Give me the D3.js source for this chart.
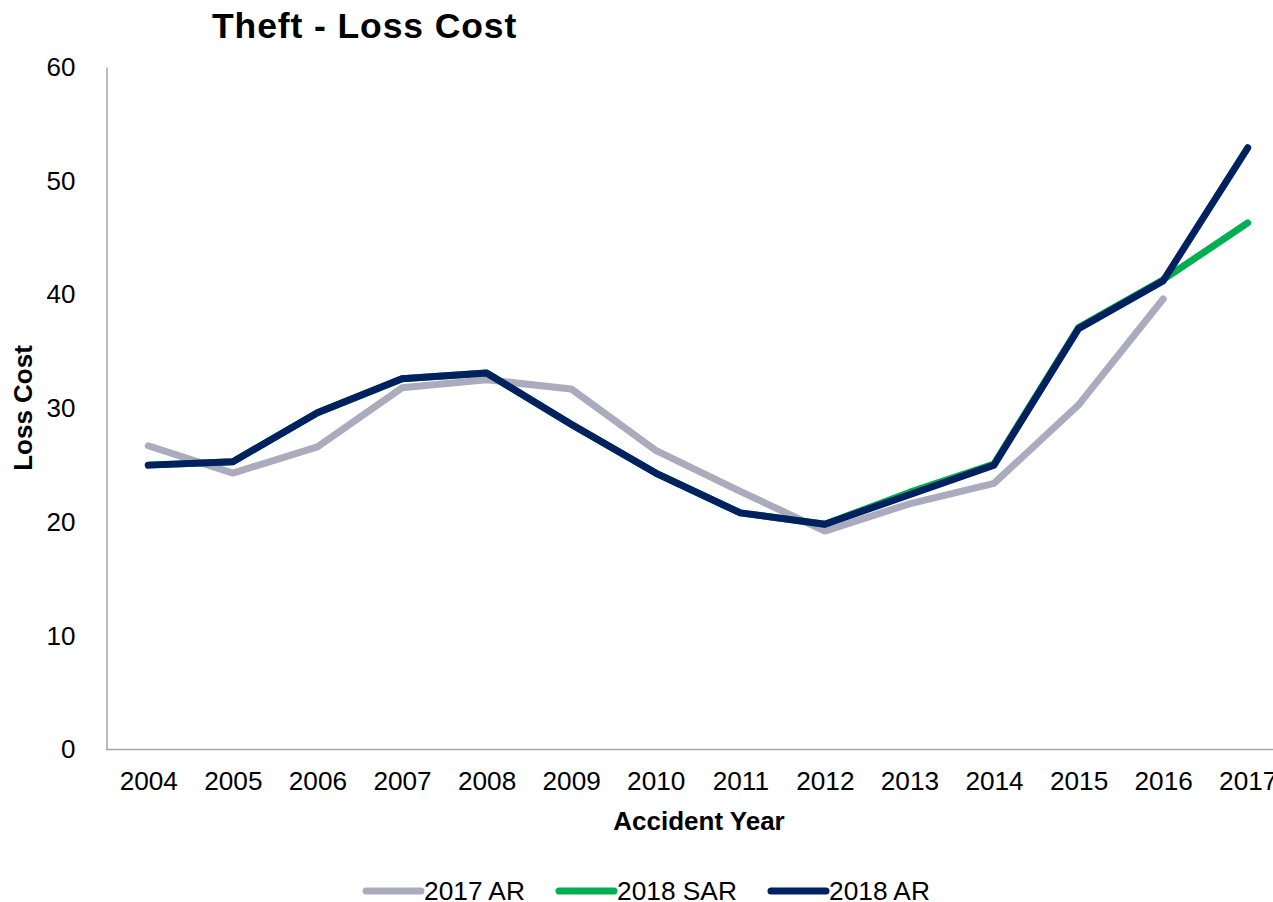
<!DOCTYPE html>
<html>
<head>
<meta charset="utf-8">
<script src="https://cdn.jsdelivr.net/npm/d3@7"></script>
<style>
  html, body { margin: 0; padding: 0; background: #fff; }
  svg { display: block; font-family: "Liberation Sans", Arial, sans-serif; }
</style>
</head>
<body>
<svg id="chart" width="1273" height="902"></svg>
<script>
// Accident years on the horizontal axis
const years = ["2004","2005","2006","2007","2008","2009","2010","2011","2012","2013","2014","2015","2016","2017"];

// Loss cost by accident year for each review
const ar2017  = [26.7, 24.3, 26.6, 31.8, 32.5, 31.7, 26.3, 22.7, 19.2, 21.6, 23.4, 30.3, 39.6, null];
const sar2018 = [25.0, 25.3, 29.6, 32.6, 33.1, 28.6, 24.3, 20.8, 19.8, 22.6, 25.1, 37.1, 41.3, 46.3];
const ar2018  = [25.0, 25.3, 29.6, 32.6, 33.1, 28.6, 24.3, 20.8, 19.8, 22.4, 25.0, 37.0, 41.2, 52.9];

const yTicks = [0, 10, 20, 30, 40, 50, 60];

const seriesNames  = ["2017 AR", "2018 SAR", "2018 AR"];
const seriesColors = ["#ababbd", "#00b050", "#002060"];

const series = [
  { name: seriesNames[0], color: seriesColors[0], values: ar2017 },
  { name: seriesNames[1], color: seriesColors[1], values: sar2018 },
  { name: seriesNames[2], color: seriesColors[2], values: ar2018 }
];

const svg = d3.select("#chart");

const plot = { left: 106, right: 1290, top: 67, bottom: 749.5 };

const x = d3.scalePoint().domain(years).range([plot.left, plot.right]).padding(0.5);
const y = d3.scaleLinear().domain([0, 60]).range([plot.bottom, plot.top]);

// Title
svg.append("text")
  .attr("x", 212).attr("y", 38)
  .attr("font-size", 35.5).attr("font-weight", "bold")
  .attr("letter-spacing", 0.9)
  .attr("fill", "#000")
  .text("Theft - Loss Cost");

// Y axis
const yAxis = svg.append("g")
  .attr("transform", `translate(${plot.left + 0.5},0)`)
  .call(d3.axisLeft(y).tickValues(yTicks).tickSize(0).tickPadding(31).tickFormat(d3.format("d")));
yAxis.select(".domain").attr("stroke", "#a6a6a6").attr("stroke-width", 1.5);
yAxis.selectAll("text").attr("font-size", 26).attr("fill", "#000").attr("font-family", "Liberation Sans, Arial, sans-serif");

// X axis
const xAxis = svg.append("g")
  .attr("transform", `translate(0,${plot.bottom})`)
  .call(d3.axisBottom(x).tickSize(0).tickPadding(22));
xAxis.select(".domain").attr("stroke", "#a6a6a6").attr("stroke-width", 1.5)
  .attr("d", `M${plot.left},0H${plot.right}`);
xAxis.selectAll("text").attr("font-size", 26.2).attr("fill", "#000").attr("font-family", "Liberation Sans, Arial, sans-serif");

// Axis titles
svg.append("text")
  .attr("x", 699).attr("y", 830)
  .attr("text-anchor", "middle")
  .attr("font-size", 26).attr("font-weight", "bold")
  .text("Accident Year");

svg.append("text")
  .attr("transform", "translate(32,408) rotate(-90)")
  .attr("text-anchor", "middle")
  .attr("font-size", 26).attr("font-weight", "bold")
  .text("Loss Cost");

// Lines
const line = d3.line()
  .defined(d => d.v != null)
  .x(d => x(d.year))
  .y(d => y(d.v));

svg.append("g").selectAll("path")
  .data(series)
  .join("path")
  .attr("fill", "none")
  .attr("stroke", d => d.color)
  .attr("stroke-width", 7)
  .attr("stroke-linecap", "round")
  .attr("stroke-linejoin", "round")
  .attr("d", d => line(d.values.map((v, i) => ({ year: years[i], v }))));

// Legend
const legendItems = [
  { x: 366, ...series[0] },
  { x: 559, ...series[1] },
  { x: 771, ...series[2] }
];
const lg = svg.append("g").selectAll("g").data(legendItems).join("g")
  .attr("transform", d => `translate(${d.x},891)`);
lg.append("line")
  .attr("x1", 0).attr("x2", 55).attr("y1", 0).attr("y2", 0)
  .attr("stroke", d => d.color).attr("stroke-width", 7).attr("stroke-linecap", "round");
lg.append("text")
  .attr("x", 58).attr("y", 9)
  .attr("font-size", 26.3).attr("fill", "#000")
  .text(d => d.name);
</script>
</body>
</html>
